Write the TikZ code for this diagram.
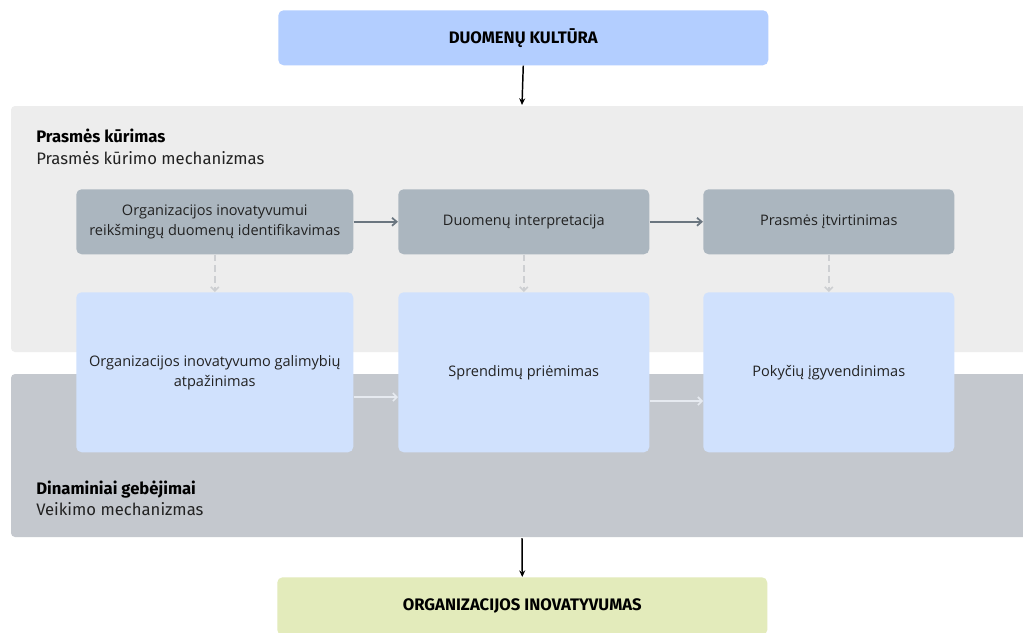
\documentclass[tikz,border=0pt]{standalone}
\usepackage{fontspec}
\setmainfont{Open Sans}
\newfontfamily\headfont{Fira Sans}
\usetikzlibrary{arrows.meta}
\definecolor{topblue}{HTML}{B3CEFF}
\definecolor{panelA}{HTML}{EDEDED}
\definecolor{panelB}{HTML}{C4C8CE}
\definecolor{grayboxc}{HTML}{ABB6BF}
\definecolor{blueboxc}{HTML}{D0E1FD}
\definecolor{greenboxc}{HTML}{E3EBBB}
\definecolor{darkarrow}{HTML}{6B7680}
\definecolor{dasharrow}{HTML}{CDCFD2}
\definecolor{lightarrow}{HTML}{E6EAF0}
\definecolor{txt}{HTML}{222222}
\tikzset{
  panel/.style={rounded corners=3pt, draw=none},
  headbox/.style={rounded corners=4pt, draw=none, anchor=north west, inner sep=0pt, font=\headfont\bfseries\fontsize{12.5}{14}\selectfont, text=black},
  graybox/.style={rounded corners=4pt, fill=grayboxc, draw=none, anchor=north west, inner sep=0pt, align=center, font=\fontsize{10.9}{15}\selectfont, text=txt},
  bluebox/.style={rounded corners=4pt, fill=blueboxc, draw=none, anchor=north west, inner sep=0pt, align=center, font=\fontsize{10.9}{15}\selectfont, text=txt},
  blackarrow/.style={-{Stealth[length=5pt,width=4.5pt]}, line width=1.1pt, black},
  rowarrow/.style={-{Straight Barb[length=3.5pt,width=6pt]}, line width=1.3pt, darkarrow},
  dasharr/.style={-{Straight Barb[length=3pt,width=6pt]}, line width=1.2pt, dasharrow, dash pattern=on 5pt off 3pt},
  lightarr/.style={-{Straight Barb[length=3pt,width=6pt]}, line width=1.2pt, lightarrow},
  paneltitle/.style={anchor=base west, inner sep=0pt, font=\headfont\bfseries\fontsize{12.5}{14}\selectfont, text=black},
  panelsub/.style={anchor=base west, inner sep=0pt, font=\headfont\fontsize{12.5}{14}\selectfont, text=txt},
}
\begin{document}
\begin{tikzpicture}[x=0.75pt,y=-0.75pt]
\useasboundingbox[fill=white] (0,0) rectangle (1023,632);
% panels
\fill[panel, panelA] (11,106) rectangle (1030,352);
\fill[panel, panelB] (11,374) rectangle (1030,537);
\node[paneltitle] (t1) at (36,142) {Prasmės kūrimas};
\node[panelsub] (s1) at (36,164) {Prasmės kūrimo mechanizmas};
\node[paneltitle] (t2) at (36,494) {Dinaminiai gebėjimai};
\node[panelsub] (s2) at (36,515) {Veikimo mechanizmas};
% top and bottom boxes
\node[headbox, fill=topblue, minimum width=490*0.75pt, minimum height=55*0.75pt] (top) at (278,10) {DUOMENŲ KULTŪRA};
\begin{scope}
\clip (0,0) rectangle (1023,632);
\node[headbox, fill=greenboxc, minimum width=490*0.75pt, minimum height=58*0.75pt] (bot) at (277,577) {ORGANIZACIJOS INOVATYVUMAS};
\end{scope}
% gray row
\node[graybox, minimum width=277*0.75pt, minimum height=65*0.75pt] (g1) at (76,189) {Organizacijos inovatyvumui\\reikšmingų duomenų identifikavimas};
\node[graybox, minimum width=251*0.75pt, minimum height=65*0.75pt] (g2) at (398,189) {Duomenų interpretacija};
\node[graybox, minimum width=251*0.75pt, minimum height=65*0.75pt] (g3) at (703,189) {Prasmės įtvirtinimas};
% blue row
\node[bluebox, minimum width=277*0.75pt, minimum height=160*0.75pt] (b1) at (76,292) {Organizacijos inovatyvumo galimybių\\atpažinimas};
\node[bluebox, minimum width=251*0.75pt, minimum height=160*0.75pt] (b2) at (398,292) {Sprendimų priėmimas};
\node[bluebox, minimum width=251*0.75pt, minimum height=160*0.75pt] (b3) at (703,292) {Pokyčių įgyvendinimas};
% arrows
\draw[blackarrow] (top.south) -- (522,105);
\draw[blackarrow] (522,538) -- (bot.north);
\draw[rowarrow] (g1.east) -- (g2.west);
\draw[rowarrow] (g2.east) -- (g3.west);
\draw[dasharr] (g1.south) -- (b1.north);
\draw[dasharr] (g2.south) -- (b2.north);
\draw[dasharr] (g3.south) -- (b3.north);
\draw[lightarr] (b1.east |- 0,397) -- (b2.west |- 0,397);
\draw[lightarr] (b2.east |- 0,401) -- (b3.west |- 0,401);
\end{tikzpicture}
\end{document}
